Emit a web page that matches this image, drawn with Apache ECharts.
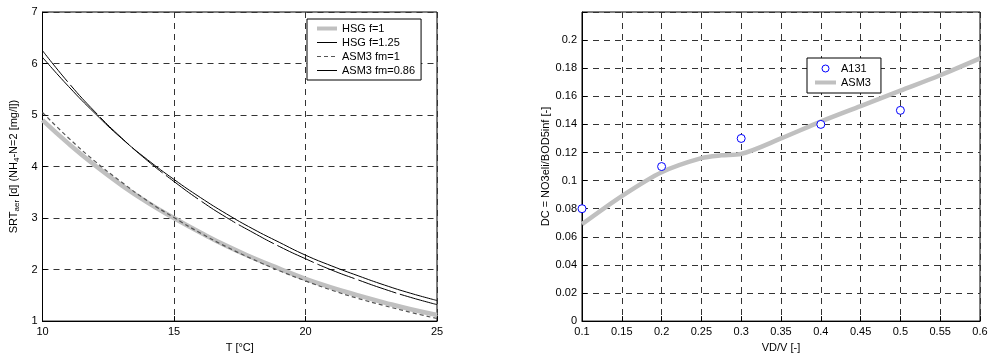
<!DOCTYPE html>
<html><head><meta charset="utf-8">
<script src="https://cdn.jsdelivr.net/npm/echarts@6/dist/echarts.min.js"></script>
<style>html,body{margin:0;padding:0;background:#fff}#c{width:991px;height:358px}</style>
</head><body><div id="c"></div>
<script>
// Left chart: T [°C] vs SRT_aer
const temps = [10,11,12,13,14,15,16,17,18,19,20,21,22,23,24,25];
const hsgF1    = [4.90,4.44,4.02,3.64,3.30,3.00,2.72,2.46,2.23,2.02,1.82,1.65,1.50,1.36,1.23,1.12];
const hsgF125  = [6.12,5.55,5.03,4.55,4.13,3.75,3.40,3.08,2.79,2.53,2.28,2.07,1.88,1.70,1.54,1.40];
const asm3Fm1  = [5.05,4.55,4.10,3.70,3.33,3.01,2.71,2.44,2.20,1.98,1.78,1.60,1.44,1.30,1.17,1.05];
const asm3Fm086= [6.25,5.62,5.06,4.56,4.11,3.71,3.34,3.01,2.72,2.45,2.21,1.99,1.80,1.62,1.46,1.32];
// Right chart: VD/V vs DC
const a131X = [0.1,0.2,0.3,0.4,0.5];
const a131Y = [0.08,0.11,0.13,0.14,0.15];
const asm3X = [0.1,0.15,0.2,0.25,0.275,0.3,0.35,0.4,0.45,0.5,0.55,0.6];
const asm3Y = [0.069,0.089,0.106,0.116,0.118,0.119,0.130,0.142,0.153,0.164,0.175,0.187];
const leftNames = ['HSG f=1','HSG f=1.25','ASM3 fm=1','ASM3 fm=0.86'];
const rightNames = ['A131','ASM3'];

const pair = (xs, ys) => xs.map((x,i)=>[x, ys[i]]);
const FONT = 'Liberation Sans, Arial, sans-serif';
const txt = {color:'#000', fontFamily:FONT, fontSize:11};
const gridLine = {show:true, lineStyle:{color:'#333', type:[6,5], width:1}};

const chart = echarts.init(document.getElementById('c'), null, {renderer:'canvas'});
chart.setOption({
  animation:false,
  backgroundColor:'#fff',
  grid:[
    {left:42.5, right:554, top:12, bottom:36, show:true, borderColor:'#000', borderWidth:1},
    {left:582, right:11, top:12, bottom:33, show:true, borderColor:'#000', borderWidth:1}
  ],
  legend:[
    {id:'legL', left:307, top:19, orient:'vertical', itemGap:3, itemWidth:20, itemHeight:10,
     padding:[4,6,4,8], borderColor:'#000', borderWidth:1, backgroundColor:'#fff',
     textStyle:txt, itemStyle:{opacity:0},
     data:[
       {name:leftNames[0], lineStyle:{width:4, color:'#c0c0c0'}},
       {name:leftNames[1], lineStyle:{width:1, color:'#000'}},
       {name:leftNames[2], lineStyle:{width:1, color:'#555', type:[4,3]}},
       {name:leftNames[3], lineStyle:{width:1, color:'#000', type:'solid'}}
     ]},
    {id:'legR', left:807, top:58, orient:'vertical', itemGap:3, itemWidth:21, itemHeight:7,
     padding:[5,10,5,6], borderColor:'#000', borderWidth:1, backgroundColor:'#fff',
     textStyle:txt,
     data:[
       {name:rightNames[0], icon:'circle', itemStyle:{opacity:1, color:'#fff', borderColor:'#0000ff', borderWidth:1}},
       {name:rightNames[1], itemStyle:{opacity:0}, lineStyle:{width:4, color:'#c0c0c0'}}
     ]}
  ],
  xAxis:[
    {gridIndex:0, type:'value', min:10, max:25, interval:5,
     name:'T [°C]', nameLocation:'middle', nameGap:20, nameTextStyle:txt,
     axisLine:{lineStyle:{color:'#000'}}, axisTick:{inside:true, lineStyle:{color:'#000'}},
     axisLabel:{...txt, margin:5}, splitLine:gridLine},
    {gridIndex:1, type:'value', min:0.1, max:0.6, interval:0.05,
     name:'VD/V [-]', nameLocation:'middle', nameGap:18, nameTextStyle:txt,
     axisLine:{lineStyle:{color:'#000'}}, axisTick:{inside:true, lineStyle:{color:'#000'}},
     axisLabel:{...txt, margin:5, formatter:v=>String(+v.toFixed(2))}, splitLine:gridLine}
  ],
  yAxis:[
    {gridIndex:0, type:'value', min:1, max:7, interval:1,
     name:'{a|SRT}{s|aer}{a| [d] (NH}{s|4}{a|-N=2 [mg/l])}', nameLocation:'middle', nameGap:22,
     nameTextStyle:{...txt, rich:{a:{...txt, fontSize:11}, s:{...txt, fontSize:8, padding:[5,0,0,0]}}},
     axisLine:{lineStyle:{color:'#000'}}, axisTick:{inside:true, lineStyle:{color:'#000'}},
     axisLabel:{...txt, margin:5}, splitLine:gridLine},
    {gridIndex:1, type:'value', min:0, max:0.22, interval:0.02,
     name:'DC = NO3eli/BOD5inf [-]', nameLocation:'middle', nameGap:30, nameTextStyle:txt,
     axisLine:{lineStyle:{color:'#000'}}, axisTick:{inside:true, lineStyle:{color:'#000'}},
     axisLabel:{...txt, margin:5, formatter:v=> v>0.21 ? '' : String(+v.toFixed(2))}, splitLine:gridLine}
  ],
  series:[
    {name:leftNames[0], type:'line', xAxisIndex:0, yAxisIndex:0, data:pair(temps,hsgF1), smooth:true, symbol:'none',
     lineStyle:{width:4.5, color:'#c0c0c0'}, itemStyle:{color:'#c0c0c0'}, z:2},
    {name:leftNames[1], type:'line', xAxisIndex:0, yAxisIndex:0, data:pair(temps,hsgF125), smooth:true, symbol:'none',
     lineStyle:{width:1, color:'#000'}, itemStyle:{color:'#000'}, z:3},
    {name:leftNames[2], type:'line', xAxisIndex:0, yAxisIndex:0, data:pair(temps,asm3Fm1), smooth:true, symbol:'none',
     lineStyle:{width:1.2, color:'#555', type:[4,3]}, itemStyle:{color:'#555'}, z:3},
    {name:leftNames[3], type:'line', xAxisIndex:0, yAxisIndex:0, data:pair(temps,asm3Fm086), smooth:true, symbol:'none',
     lineStyle:{width:1, color:'#000', type:[40,4]}, itemStyle:{color:'#000'}, z:3},
    {name:rightNames[1], type:'line', xAxisIndex:1, yAxisIndex:1, data:pair(asm3X,asm3Y), smooth:0.3, symbol:'none',
     lineStyle:{width:4.5, color:'#c0c0c0'}, itemStyle:{color:'#c0c0c0'}, z:2},
    {name:rightNames[0], type:'scatter', xAxisIndex:1, yAxisIndex:1, data:pair(a131X,a131Y), symbol:'circle', symbolSize:8,
     itemStyle:{color:'#fff', opacity:1, borderColor:'#0000ff', borderWidth:1}, z:4}
  ]
});
</script></body></html>
